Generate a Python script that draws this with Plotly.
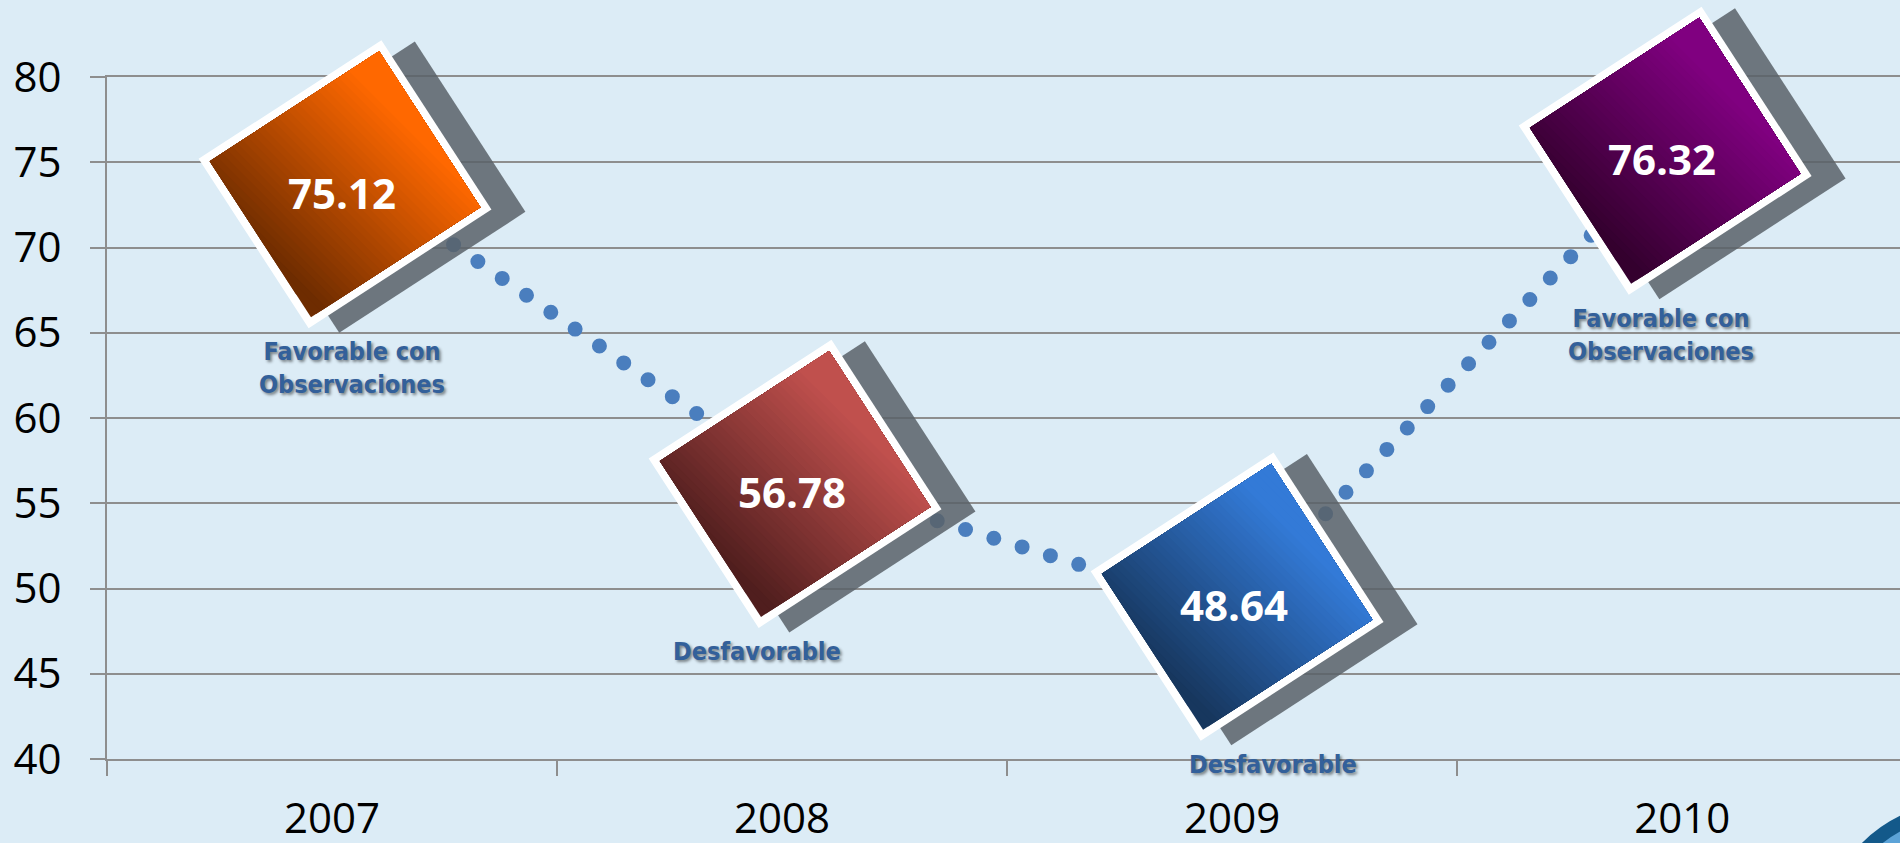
import math
import plotly.graph_objects as go

# ---------------- data ----------------
years = ["2007", "2008", "2009", "2010"]
scores = [75.12, 56.78, 48.64, 76.32]
verdicts = ["Favorable con<br>Observaciones", "Desfavorable", "Desfavorable",
            "Favorable con<br>Observaciones"]
y_tick_values = [40, 45, 50, 55, 60, 65, 70, 75, 80]

# ---------------- styles ----------------
box_dark = [(110, 44, 0), (80, 30, 30), (23, 55, 94), (52, 0, 46)]
box_light = [(255, 104, 0), (192, 80, 77), (51, 122, 215), (128, 0, 128)]
box_nudge_px = [(13, 24), (13, 11), (5, -15), (-17, 11)]   # (right, down) offsets of each box
label_dx_px = [7, -38, 36, -4]

BG = "#DCECF6"
GRID = "#8E8E8E"
LINE_BLUE = "#4A7EBE"
X_RANGE = [-0.5, 3.484]
Y_RANGE = [40, 80]

xpos = list(range(len(years)))

fig = go.Figure()
fig.add_trace(go.Scatter(
    x=xpos, y=scores, mode="lines",
    line=dict(color=LINE_BLUE, width=15, dash="13px,17px"),
    hoverinfo="skip", showlegend=False,
))

ANG = math.radians(33)
U = (math.cos(ANG), -math.sin(ANG))   # screen coords, y down
V = (math.sin(ANG), math.cos(ANG))
GD = (math.cos(math.radians(45)), -math.sin(math.radians(45)))  # gradient direction


def rect(cx, cy, w, h):
    pts = []
    for a, b in [(-w / 2, -h / 2), (w / 2, -h / 2), (w / 2, h / 2), (-w / 2, h / 2)]:
        pts.append((cx + a * U[0] + b * V[0], cy + a * U[1] + b * V[1]))
    return pts


def clip_half(poly, d, t):
    out = []
    n = len(poly)
    for k in range(n):
        p = poly[k]
        q = poly[(k + 1) % n]
        fp = p[0] * d[0] + p[1] * d[1] - t
        fq = q[0] * d[0] + q[1] * d[1] - t
        if fp >= 0:
            out.append(p)
        if (fp >= 0) != (fq >= 0):
            s = fp / (fp - fq)
            out.append((p[0] + s * (q[0] - p[0]), p[1] + s * (q[1] - p[1])))
    return out


def to_path(poly):
    # pixel-sized shape paths use y pointing up
    return "M" + " L".join(f"{x:.2f},{-y:.2f}" for x, y in poly) + " Z"


def lerp(c0, c1, f):
    f = max(0.0, min(1.0, f))
    return "rgb(%d,%d,%d)" % tuple(round(a + (b - a) * f) for a, b in zip(c0, c1))


N_STRIPS = 40
for i, val in enumerate(scores):
    yfrac = (val - Y_RANGE[0]) / (Y_RANGE[1] - Y_RANGE[0])
    common = dict(type="path", xref="x", yref="paper", xsizemode="pixel", ysizemode="pixel",
                  xanchor=xpos[i], yanchor=yfrac, layer="above", line=dict(width=0))
    cx, cy = box_nudge_px[i]
    fig.add_shape(path=to_path(rect(cx + 32, cy + 3, 222, 203)),
                  fillcolor="rgba(89,98,105,0.85)", **common)
    fig.add_shape(path=to_path(rect(cx, cy, 218, 202)), fillcolor="white", **common)
    inner = rect(cx, cy, 202, 186)
    proj = [p[0] * GD[0] + p[1] * GD[1] for p in inner]
    tmin, tmax = min(proj), max(proj)
    for k in range(N_STRIPS):
        t = tmin + (tmax - tmin) * k / N_STRIPS - (0.5 if k == 0 else 0)
        poly = clip_half(inner, GD, t)
        if len(poly) < 3:
            continue
        f = (k / N_STRIPS - 0.05) / 0.8
        fig.add_shape(path=to_path(poly), fillcolor=lerp(box_dark[i], box_light[i], f), **common)

    fig.add_annotation(x=xpos[i], y=val, xref="x", yref="y", text=f"{val:.2f}", showarrow=False,
                       xshift=cx - 3, yshift=-(cy + 8),
                       font=dict(family="Open Sans", size=42, color="white", weight="bold"))
    fig.add_annotation(x=xpos[i], y=val, xref="x", yref="y", text=verdicts[i], showarrow=False,
                       xshift=cx + label_dx_px[i], yshift=-(cy + 167 - 16), yanchor="top",
                       font=dict(family="DejaVu Sans Condensed, DejaVu Sans, sans-serif",
                                 size=25, color="#33609A", weight="bold",
                                 shadow="2px 2px 3px rgba(0,0,0,0.45)"))

# decorative corner logo
fig.add_shape(type="circle", xref="paper", yref="paper", xsizemode="pixel", ysizemode="pixel",
              xanchor=1, yanchor=0, x0=-71, x1=191, y0=-312, y1=-50,
              fillcolor="#5CA3D8", line=dict(color="#13598A", width=14), layer="above")

fig.update_layout(
    width=1900, height=843,
    margin=dict(l=107, r=0, t=77, b=84, pad=0),
    paper_bgcolor=BG, plot_bgcolor=BG,
    showlegend=False,
    xaxis=dict(range=X_RANGE, tickmode="array", tickvals=xpos, ticktext=years, ticks="",
               showgrid=False, zeroline=False, showline=True, mirror=True, automargin=False,
               linecolor=GRID, linewidth=2, ticklabelstandoff=22,
               tickfont=dict(family="Open Sans", size=42, color="black"),
               minor=dict(tickmode="array", tickvals=[-0.5, 0.5, 1.5, 2.5, 3.5], ticks="outside",
                          ticklen=15, tickwidth=2, tickcolor=GRID, showgrid=False)),
    yaxis=dict(range=Y_RANGE, tickmode="array", tickvals=y_tick_values, ticks="outside",
               ticklen=15, tickwidth=2, tickcolor=GRID, showgrid=True, gridcolor=GRID,
               gridwidth=2, zeroline=False, showline=True, linecolor=GRID, linewidth=2,
               ticklabelstandoff=20, automargin=False,
               tickfont=dict(family="Open Sans", size=42, color="black")),
)

post = """
document.documentElement.style.margin = '0';
document.documentElement.style.padding = '0';
document.documentElement.style.overflow = 'hidden';
document.body.style.margin = '0';
document.body.style.padding = '0';
document.body.style.overflow = 'hidden';
document.body.style.background = '""" + BG + """';
var gd = document.getElementById('{plot_id}');
gd.querySelectorAll('.scatterlayer .js-line').forEach(function(p){
  p.style.strokeLinecap = 'round';
  p.style.strokeDasharray = '0px 29.6px';
});
"""
fig.write_html("out.html", post_script=post, config={"displayModeBar": False})
